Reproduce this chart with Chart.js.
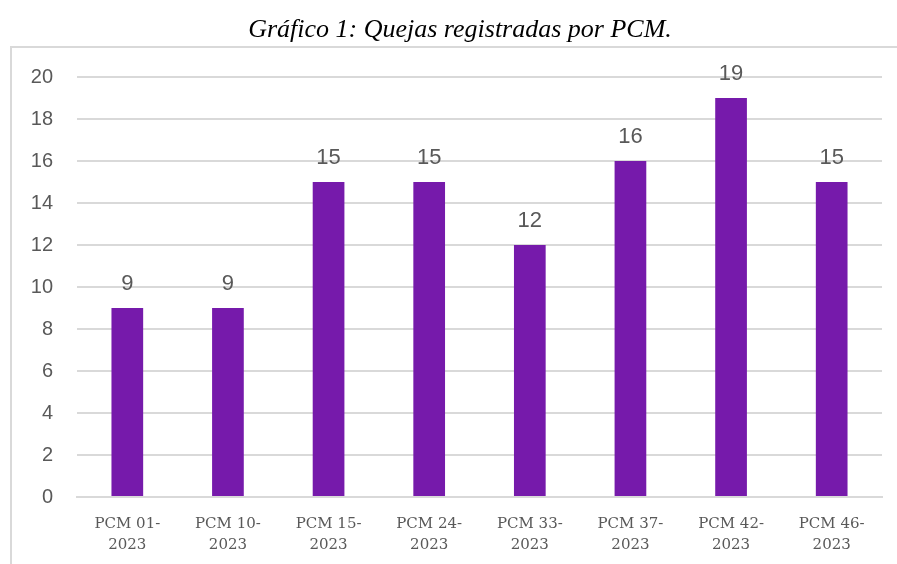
<!DOCTYPE html>
<html>
<head>
<meta charset="utf-8">
<script src="https://cdn.jsdelivr.net/npm/chart.js@4"></script>
<style>
  html, body { margin: 0; padding: 0; background: #fff; overflow: hidden; }
  #wrap { width: 897px; height: 564px; position: relative; }
</style>
</head>
<body>
<div id="wrap"><canvas id="chart" width="897" height="564"></canvas></div>
<script>
const titleText = "Gráfico 1: Quejas registradas por PCM.";
const categories = [
  ["PCM 01-", "2023"], ["PCM 10-", "2023"], ["PCM 15-", "2023"], ["PCM 24-", "2023"],
  ["PCM 33-", "2023"], ["PCM 37-", "2023"], ["PCM 42-", "2023"], ["PCM 46-", "2023"]
];
const quejas = [9, 9, 15, 15, 12, 16, 19, 15];
const yMin = 0, yMax = 20, yStep = 2;

const barColor = "#761AAB";
const gridColor = "#d9d9d9";
const textColor = "#595959";

// frame around the chart (Excel chart border) and the caption above it
const framePlugin = {
  id: "frame",
  beforeDraw(chart) {
    const c = chart.ctx;
    c.save();
    c.strokeStyle = "#d9d9d9";
    c.lineWidth = 2;
    c.strokeRect(11, 47, 1000, 1000);
    c.font = "italic 26px 'Liberation Serif'";
    c.fillStyle = "#000";
    c.textAlign = "center";
    c.textBaseline = "middle";
    c.fillText(titleText, 460, 30);
    c.restore();
  }
};

// value labels above the bars
const valueLabels = {
  id: "valueLabels",
  afterDatasetsDraw(chart) {
    const c = chart.ctx;
    const meta = chart.getDatasetMeta(0);
    c.save();
    c.font = "22px 'Liberation Sans'";
    c.fillStyle = textColor;
    c.textAlign = "center";
    c.textBaseline = "bottom";
    meta.data.forEach((bar, i) => {
      c.fillText(String(quejas[i]), bar.x, bar.y - 13);
    });
    c.restore();
  }
};

new Chart(document.getElementById("chart").getContext("2d"), {
  type: "bar",
  data: {
    labels: categories,
    datasets: [{
      label: "Quejas",
      data: quejas,
      backgroundColor: barColor,
      borderWidth: 0,
      barPercentage: 0.63,
      categoryPercentage: 0.5
    }]
  },
  options: {
    responsive: false,
    animation: false,
    layout: { padding: { left: 0, right: 15, top: 0, bottom: 0 } },
    plugins: {
      legend: { display: false },
      tooltip: { enabled: false },
      // title box only reserves the space; the caption itself is drawn by framePlugin
      title: {
        display: true,
        text: titleText,
        color: "rgba(0,0,0,0)",
        font: { family: "'Liberation Serif'", size: 26, style: "italic", weight: "normal", lineHeight: 1.2 },
        padding: { top: 14.4, bottom: 31.4 }
      }
    },
    scales: {
      x: {
        grid: { display: false, drawTicks: false },
        border: { display: true, color: gridColor, width: 2 },
        ticks: {
          color: textColor,
          font: { family: "'DejaVu Serif'", size: 15, lineHeight: 1.4 },
          padding: 17,
          maxRotation: 0,
          autoSkip: false
        },
        afterFit(scale) { scale.height = 67; }
      },
      y: {
        min: yMin,
        max: yMax,
        grid: { color: gridColor, lineWidth: 2, drawTicks: false },
        border: { display: false },
        ticks: {
          stepSize: yStep,
          color: textColor,
          font: { family: "'Liberation Sans'", size: 20 },
          padding: 24
        },
        afterFit(scale) { scale.width = 77; }
      }
    }
  },
  plugins: [framePlugin, valueLabels]
});
</script>
</body>
</html>
